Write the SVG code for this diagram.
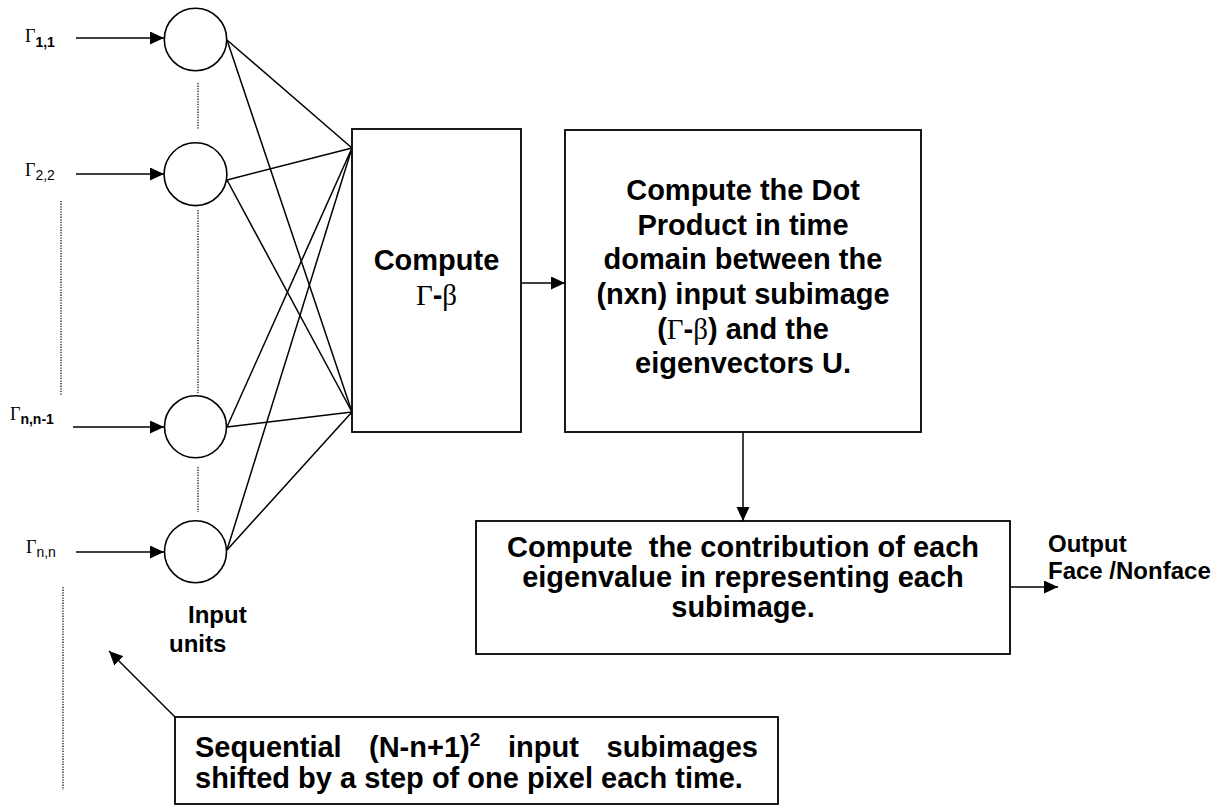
<svg xmlns="http://www.w3.org/2000/svg" width="1223" height="806" viewBox="0 0 1223 806">
<defs>
<style>
.box{fill:#fff;stroke:#000;stroke-width:1.8}
.unit{fill:#fff;stroke:#000;stroke-width:1.6}
.ln{stroke:#000;stroke-width:1.5;fill:none}
.dot{stroke:#000;stroke-width:1.2;stroke-dasharray:1.3 1.3;fill:none}
.bt{font-family:"Liberation Sans",Arial,sans-serif;font-weight:bold;font-size:29px;fill:#000;text-anchor:middle;white-space:pre}
.gr{font-family:"Liberation Serif","Times New Roman",serif;font-weight:normal}
.lab{font-family:"Liberation Serif","Times New Roman",serif;font-size:18px;fill:#000}
.sub{font-family:"Liberation Sans",Arial,sans-serif;font-size:14px}
.sm{font-family:"Liberation Sans",Arial,sans-serif;font-weight:bold;font-size:24px;fill:#000}
</style>
<marker id="ah" markerUnits="userSpaceOnUse" markerWidth="16" markerHeight="14" refX="14" refY="6.5" orient="auto">
<path d="M0,0 L14,6.5 L0,13 z" fill="#000"/>
</marker>
</defs>
<rect width="1223" height="806" fill="#fff"/>

<g id="connectors">
<line class="ln" x1="76" y1="38" x2="164" y2="38" marker-end="url(#ah)"/>
<line class="ln" x1="76" y1="174" x2="164" y2="174" marker-end="url(#ah)"/>
<line class="ln" x1="73" y1="427" x2="164" y2="427" marker-end="url(#ah)"/>
<line class="ln" x1="76" y1="552" x2="164" y2="552" marker-end="url(#ah)"/>
<line class="ln" x1="227" y1="40" x2="352" y2="148"/>
<line class="ln" x1="227" y1="40" x2="352" y2="412"/>
<line class="ln" x1="227" y1="180" x2="352" y2="148"/>
<line class="ln" x1="227" y1="180" x2="352" y2="412"/>
<line class="ln" x1="227" y1="427" x2="352" y2="148"/>
<line class="ln" x1="227" y1="427" x2="352" y2="412"/>
<line class="ln" x1="227" y1="550" x2="352" y2="148"/>
<line class="ln" x1="227" y1="550" x2="352" y2="412"/>
<line class="ln" x1="521" y1="283" x2="565" y2="283" marker-end="url(#ah)"/>
<line class="ln" x1="743" y1="432" x2="743" y2="521" marker-end="url(#ah)"/>
<line class="ln" x1="1010" y1="587" x2="1058" y2="587" marker-end="url(#ah)"/>
<line class="ln" x1="175" y1="717" x2="109" y2="651" marker-end="url(#ah)"/>
<line class="dot" x1="198" y1="83" x2="198" y2="129"/>
<line class="dot" x1="198" y1="210" x2="198" y2="393"/>
<line class="dot" x1="198" y1="467" x2="198" y2="512"/>
<line class="dot" x1="61" y1="201" x2="61" y2="395"/>
<line class="dot" x1="63" y1="587" x2="63" y2="790"/>
</g>

<g id="input1">
<circle class="unit" cx="195.5" cy="39.5" r="31.2"/>
<text class="lab" x="25" y="42">Γ<tspan class="sub" font-weight="bold" dy="5">1,1</tspan></text>
</g>
<g id="input2">
<circle class="unit" cx="195.5" cy="174.2" r="31.4"/>
<text class="lab" x="25" y="176">Γ<tspan class="sub" dy="4">2,2</tspan></text>
</g>
<g id="input3">
<circle class="unit" cx="195.5" cy="426.8" r="31"/>
<text class="lab" x="10" y="420">Γ<tspan class="sub" font-weight="bold" dy="4">n,n-1</tspan></text>
</g>
<g id="input4">
<circle class="unit" cx="195.5" cy="551.7" r="31"/>
<text class="lab" x="26" y="553">Γ<tspan class="sub" dy="4">n,n</tspan></text>
</g>
<g id="input-label">
<text class="sm" x="188" y="623">Input</text>
<text class="sm" x="169" y="652">units</text>
</g>

<g id="subtract">
<rect class="box" x="352" y="129" width="169" height="303"/>
<text class="bt" x="436.5" y="270">Compute</text>
<text class="bt" x="436.5" y="305"><tspan class="gr">Γ</tspan>-<tspan class="gr">β</tspan></text>
</g>

<g id="dotproduct">
<rect class="box" x="565" y="130" width="356" height="302"/>
<text class="bt" x="743" y="200">Compute the Dot</text>
<text class="bt" x="743" y="235">Product in time</text>
<text class="bt" x="743" y="269">domain between the</text>
<text class="bt" x="743" y="304">(nxn) input subimage</text>
<text class="bt" x="743" y="339">(<tspan class="gr">Γ</tspan>-<tspan class="gr">β</tspan>) and the</text>
<text class="bt" x="743" y="373">eigenvectors U.</text>
</g>

<g id="contribution">
<rect class="box" x="476" y="521" width="534" height="133"/>
<text class="bt" x="743" y="557">Compute  the contribution of each</text>
<text class="bt" x="743" y="587">eigenvalue in representing each</text>
<text class="bt" x="743" y="617">subimage.</text>
</g>

<g id="output">
<text class="sm" x="1048" y="552">Output</text>
<text class="sm" x="1048" y="579">Face /Nonface</text>
</g>

<g id="note">
<rect class="box" x="175" y="717" width="603" height="87"/>
<text class="bt" style="text-anchor:start" x="195" y="757">Sequential</text>
<text class="bt" style="text-anchor:start" x="369" y="757">(N-n+1)<tspan font-size="19" dy="-11">2</tspan></text>
<text class="bt" style="text-anchor:start" x="508" y="757">input</text>
<text class="bt" style="text-anchor:end" x="758" y="757">subimages</text>
<text class="bt" style="text-anchor:start" x="195" y="788">shifted by a step of one pixel each time.</text>
</g>
</svg>
